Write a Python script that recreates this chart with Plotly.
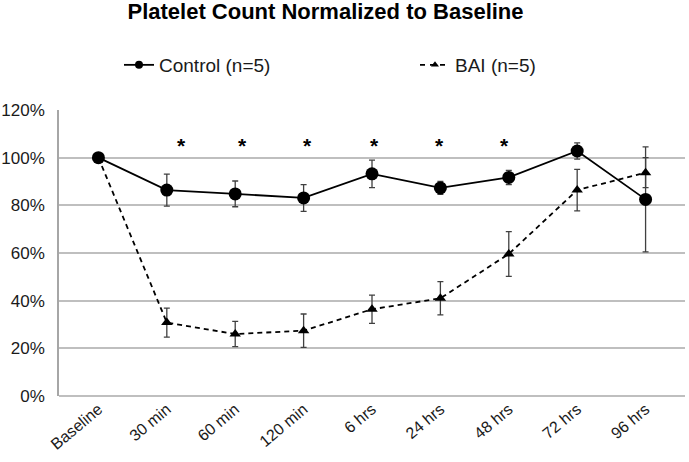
import plotly.graph_objects as go

categories = ["Baseline", "30 min", "60 min", "120 min", "6 hrs", "24 hrs", "48 hrs", "72 hrs", "96 hrs"]
control = [100, 86.4, 84.8, 83.1, 93.2, 87.3, 91.7, 102.8, 82.5]
control_err = [0, 6.7, 5.4, 5.6, 5.8, 2.7, 3.0, 3.4, 22.0]
bai = [100, 30.8, 26.0, 27.4, 36.4, 41.0, 59.6, 86.4, 93.7]
bai_err = [0, 6.1, 5.3, 7.0, 5.9, 7.0, 9.4, 8.7, 6.3]
sig_categories = ["30 min", "60 min", "120 min", "6 hrs", "24 hrs", "48 hrs"]
sig_level = 105
y_ticks = [0, 20, 40, 60, 80, 100, 120]
y_tick_labels = ["0%", "20%", "40%", "60%", "80%", "100%", "120%"]

font_family = "Liberation Sans, Arial, sans-serif"
err_style = dict(type="data", visible=True, color="#404040", thickness=1.3, width=3)

fig = go.Figure()
fig.add_trace(go.Scatter(
    x=categories, y=control, name="Control (n=5)", mode="lines+markers", showlegend=False,
    line=dict(color="black", width=1.8),
    marker=dict(symbol="circle", size=13, color="black"),
    error_y=dict(array=control_err, **err_style),
))
fig.add_trace(go.Scatter(
    x=categories, y=bai, name="BAI (n=5)", mode="lines+markers", showlegend=False,
    line=dict(color="black", width=1.8, dash="5px,4px"),
    marker=dict(symbol="triangle-up", size=10, color="black"),
    error_y=dict(array=bai_err, **err_style),
))
# legend-only entries (smaller legend symbols, as in the original)
fig.add_trace(go.Scatter(
    x=[None], y=[None], name="Control (n=5)", mode="lines+markers",
    line=dict(color="black", width=1.8), marker=dict(symbol="circle", size=8, color="black"),
))
fig.add_trace(go.Scatter(
    x=[None], y=[None], name="BAI (n=5)", mode="lines+markers",
    line=dict(color="black", width=1.8, dash="5px,5px"), marker=dict(symbol="triangle-up", size=7, color="black"),
))

shifts = [15, 7, 4, 2, -1, -4]
for c, s in zip(sig_categories, shifts):
    fig.add_annotation(x=c, y=sig_level, text="<b>*</b>", showarrow=False, xshift=s,
                       yanchor="middle", font=dict(size=21, color="black", family=font_family))

fig.update_layout(
    width=689, height=462,
    margin=dict(l=59, r=4, t=110, b=66),
    paper_bgcolor="white", plot_bgcolor="white",
    font=dict(family=font_family, color="#1a1a1a", size=16),
    title=dict(text="<b>Platelet Count Normalized to Baseline</b>", x=325.5/689, xanchor="center",
               xref="container", y=1 - 4/462, yanchor="top", yref="container", pad=dict(t=0, b=0),
               font=dict(size=22, color="black", family=font_family)),
    legend=dict(orientation="h", xref="container", yref="container", x=119/689, y=1 - 65/462,
                xanchor="left", yanchor="middle", entrywidth=251, font=dict(size=19, color="#1a1a1a"),
                bgcolor="rgba(0,0,0,0)", itemwidth=30, tracegroupgap=0),
    showlegend=True,
)
fig.update_xaxes(showgrid=False, showline=False, ticks="", tickangle=-40, automargin=False,
                 tickfont=dict(size=16, color="#1a1a1a"))
fig.update_yaxes(range=[0, 120], tickvals=y_ticks, ticktext=y_tick_labels, showgrid=True, automargin=False,
                 gridcolor="#bfbfbf", gridwidth=1.5, showline=True, linecolor="#a6a6a6", linewidth=1.5,
                 zeroline=True, zerolinecolor="#bfbfbf", zerolinewidth=1.5, ticks="",
                 tickfont=dict(size=17, color="#1a1a1a"), ticklabelstandoff=9)

fig.write_html("out.html", config={"displayModeBar": False},
               post_script="document.body.style.margin='0px';")
